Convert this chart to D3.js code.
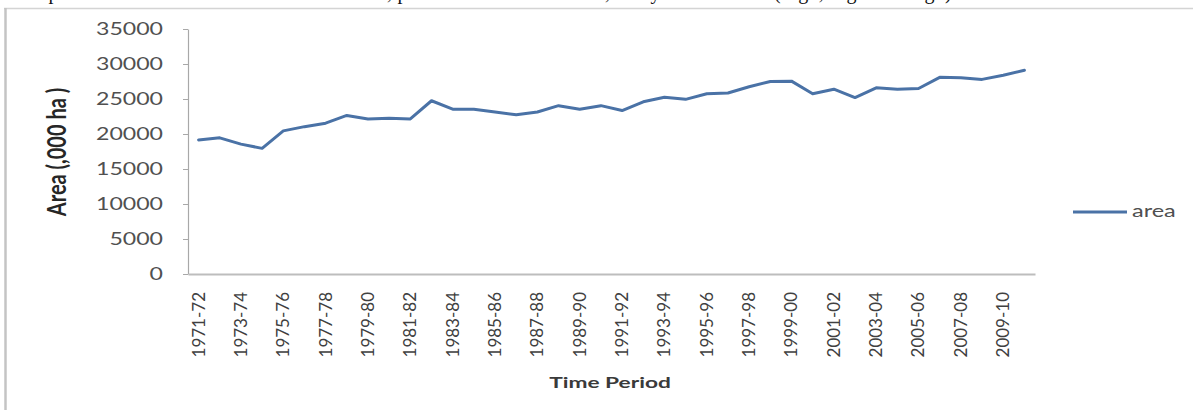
<!DOCTYPE html>
<html>
<head>
<meta charset="utf-8">
<script src="https://cdn.jsdelivr.net/npm/d3@7"></script>
<style>
  html, body { margin: 0; padding: 0; background: #ffffff; }
  svg { display: block; }
</style>
</head>
<body>
<svg id="chart" width="1193" height="410"></svg>
<script>
// Agricultural years (x categories)
const periods = [
  "1971-72","1972-73","1973-74","1974-75","1975-76","1976-77","1977-78","1978-79",
  "1979-80","1980-81","1981-82","1982-83","1983-84","1984-85","1985-86","1986-87",
  "1987-88","1988-89","1989-90","1990-91","1991-92","1992-93","1993-94","1994-95",
  "1995-96","1996-97","1997-98","1998-99","1999-00","2000-01","2001-02","2002-03",
  "2003-04","2004-05","2005-06","2006-07","2007-08","2008-09","2009-10","2010-11"
];

// Area under the crop, '000 ha
const area = [
  19150, 19450, 18550, 17950, 20450, 21050, 21550, 22650,
  22150, 22250, 22150, 24750, 23550, 23550, 23150, 22750,
  23150, 24050, 23550, 24050, 23350, 24600, 25250, 24950,
  25750, 25850, 26750, 27500, 27550, 25750, 26400, 25200,
  26600, 26400, 26500, 28100, 28050, 27800, 28400, 29100
];

// Category labels shown on the x axis (every second year)
const xTickLabels = [
  "1971-72","1973-74","1975-76","1977-78","1979-80","1981-82","1983-84","1985-86",
  "1987-88","1989-90","1991-92","1993-94","1995-96","1997-98","1999-00","2001-02",
  "2003-04","2005-06","2007-08","2009-10"
];

const yTicks = [0, 5000, 10000, 15000, 20000, 25000, 30000, 35000];

const seriesName = "area";
const yTitle = "Area (,000 ha )";
const xTitle = "Time Period";
const runningText = "crop in terms of total area in million hectare, production in million ton, and yield of wheat (Fig1, Fig2 and Fig3).";

const svg = d3.select("#chart");
const font = "Lato, 'Open Sans', sans-serif";
const lineColor = "#4a72a6";

// Tail of the body-text line running above the figure (only its lower edge is on the page)
svg.append("text")
  .attr("x", 22).attr("y", -1)
  .attr("font-family", "'Liberation Serif', serif")
  .attr("font-size", 20)
  .attr("textLength", 935)
  .attr("fill", "#111")
  .text(runningText);

// Figure frame
svg.append("line").attr("x1", 4).attr("x2", 1193).attr("y1", 8.5).attr("y2", 8.5)
  .attr("stroke", "#d4d4d4").attr("stroke-width", 1.5);
svg.append("line").attr("x1", 5.5).attr("x2", 5.5).attr("y1", 8).attr("y2", 410)
  .attr("stroke", "#c4c4c4").attr("stroke-width", 2.5);

// Scales
const x = d3.scaleBand().domain(periods).range([188, 1035]);
const y = d3.scaleLinear().domain([0, 35000]).range([274, 29]);
const cx = d => x(d) + x.bandwidth() / 2;

// Y axis
const yAxis = svg.append("g")
  .attr("transform", "translate(188,0)")
  .call(d3.axisLeft(y).tickValues(yTicks).tickSize(5).tickSizeOuter(0).tickFormat(d3.format("d")));
yAxis.select(".domain").attr("stroke", "#a8a8a8").attr("stroke-width", 1.2);
yAxis.selectAll(".tick line").attr("stroke", "#a8a8a8");
yAxis.selectAll(".tick text")
  .attr("x", null)
  .attr("transform", "translate(-25,0) scale(1.36,1)")
  .attr("font-family", font)
  .attr("font-size", 17)
  .attr("fill", "#505050");

// X axis baseline
const xAxis = svg.append("g")
  .attr("transform", "translate(0,274)")
  .call(d3.axisBottom(x).tickValues(xTickLabels).tickSize(0).tickSizeOuter(0));
xAxis.select(".domain").attr("stroke", "#bdbdbd").attr("stroke-width", 1.8);
xAxis.selectAll(".tick text")
  .attr("y", null).attr("dy", "0.35em")
  .attr("text-anchor", "end")
  .attr("transform", "translate(0,18) rotate(-90)")
  .attr("font-family", font)
  .attr("font-size", 17)
  .attr("fill", "#404040");

// Series line
const line = d3.line()
  .x((d, i) => cx(periods[i]))
  .y(d => y(d));
svg.append("path")
  .datum(area)
  .attr("d", line)
  .attr("fill", "none")
  .attr("stroke", lineColor)
  .attr("stroke-width", 3)
  .attr("stroke-linejoin", "round")
  .attr("stroke-linecap", "round");

// Axis titles
svg.append("text")
  .attr("transform", "translate(66,152) scale(1.3,1) rotate(-90)")
  .attr("text-anchor", "middle")
  .attr("font-family", font)
  .attr("font-weight", "bold")
  .attr("font-size", 20)
  .attr("fill", "#262626")
  .text(yTitle);

svg.append("text")
  .attr("transform", "translate(610,388) scale(1.42,1)")
  .attr("text-anchor", "middle")
  .attr("font-family", font)
  .attr("font-weight", "bold")
  .attr("font-size", 16)
  .attr("fill", "#3a3a3a")
  .text(xTitle);

// Legend
const legend = svg.append("g");
legend.append("line")
  .attr("x1", 1073).attr("x2", 1127).attr("y1", 212).attr("y2", 212)
  .attr("stroke", lineColor).attr("stroke-width", 3);
legend.append("text")
  .attr("transform", "translate(1132,217) scale(1.38,1)")
  .attr("font-family", font)
  .attr("font-size", 17)
  .attr("fill", "#505050")
  .text(seriesName);
</script>
</body>
</html>
